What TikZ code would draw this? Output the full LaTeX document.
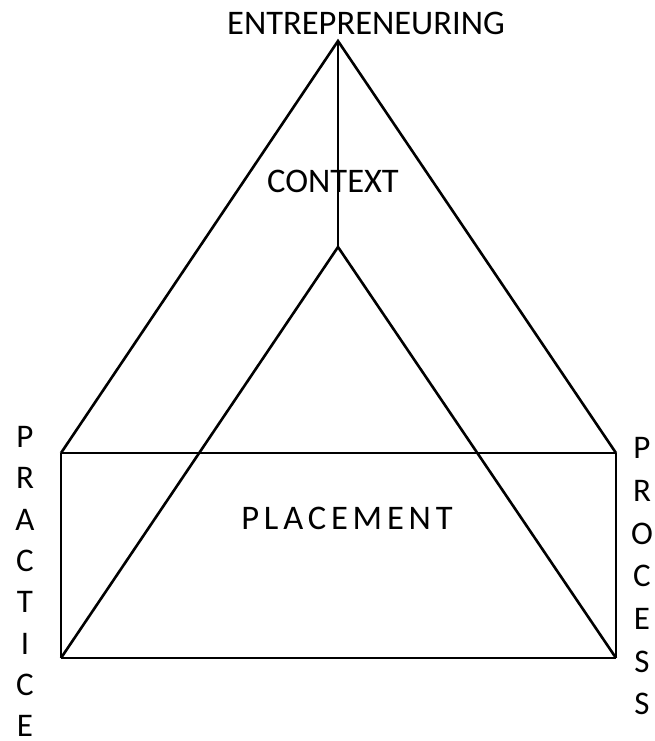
\documentclass[tikz,border=0pt]{standalone}
\usepackage{fontspec}
\setmainfont{Carlito}
\begin{document}
\begin{tikzpicture}[x=1pt,y=-1pt,
  lbl/.style={font=\fontsize{34.5}{34.5}\selectfont, inner sep=0pt, anchor=center},
  vlbl/.style={font=\fontsize{33}{33}\selectfont, inner sep=0pt, anchor=center},
  thick line/.style={line width=2.6pt, line join=miter},
  thin line/.style={line width=1.4pt}]
\useasboundingbox (0,0) rectangle (655,741);
\fill[white] (0,0) rectangle (655,741);
\coordinate (apex) at (338,41);
\coordinate (iapex) at (338,247);
\coordinate (tl) at (61,453);
\coordinate (tr) at (616,453);
\coordinate (bl) at (61,658);
\coordinate (br) at (616,658);
% outer triangle
\draw[thick line] (tl) -- (apex) -- (tr);
\draw[thick line] (tl) -- (tr);
% inner triangle
\draw[thick line] (bl) -- (iapex) -- (br);
\draw[thick line] (bl) -- (br);
% rectangle sides
\draw[thick line] (tl) -- (bl);
\draw[thin line] (tr) -- (br);
% center line
\draw[thin line] (apex) -- (iapex);
% labels
\node[lbl] (ent) at (366,23) {ENTREPRENEURING};
\node[lbl] (ctx) at (333,181) {CONTEXT};
\node[lbl] (plc) at (347,518) {\addfontfeature{LetterSpace=14}PLACEMENT};
\foreach \ch [count=\i] in {P,R,A,C,T,I,C,E}{
  \node[vlbl] (pr\i) at (25,{437+41.3*(\i-1)}) {\ch};
}
\foreach \ch [count=\i] in {P,R,O,C,E,S,S}{
  \node[vlbl] (ps\i) at (642,{448+42.7*(\i-1)}) {\ch};
}
\end{tikzpicture}
\end{document}
